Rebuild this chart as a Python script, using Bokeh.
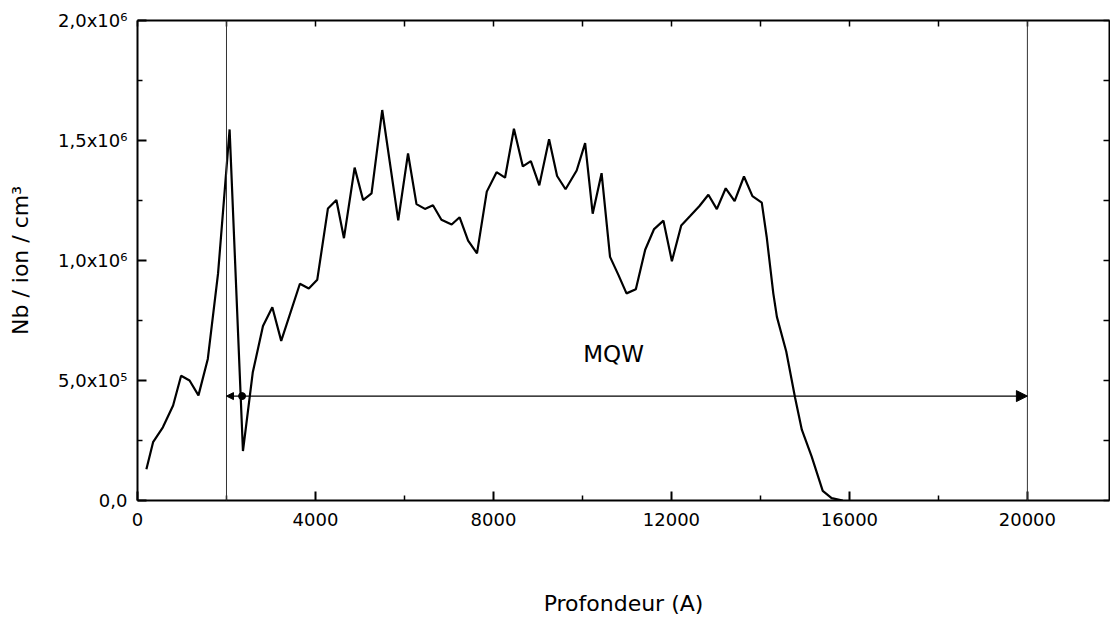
from bokeh.plotting import figure
from bokeh.models import (Range1d, LinearAxis, FixedTicker, Span, Arrow,
                          NormalHead, Label, ColumnDataSource)
from bokeh.embed import file_html
from bokeh.resources import INLINE

# ---- data ----
depth = [200, 350, 570, 800, 980, 1170, 1370, 1580, 1810, 2070, 2370, 2590,
         2820, 3030, 3230, 3650, 3850, 4040, 4280, 4470, 4640, 4880, 5070,
         5260, 5500, 5860, 6080, 6270, 6460, 6640, 6830, 7060, 7240, 7430,
         7630, 7850, 8070, 8260, 8460, 8660, 8840, 9030, 9250, 9430, 9620,
         9870, 10060, 10230, 10430, 10620, 10810, 10990, 11200, 11410, 11610,
         11820, 12010, 12220, 12420, 12630, 12830, 13020, 13220, 13420, 13630,
         13820, 14030, 14140, 14290, 14370, 14580, 14780, 14930, 15150, 15400,
         15600, 15850]
conc = [130e3, 243e3, 305e3, 396e3, 520e3, 500e3, 438e3, 590e3, 945e3,
        1546e3, 206e3, 533e3, 727e3, 805e3, 665e3, 903e3, 883e3, 920e3,
        1217e3, 1252e3, 1093e3, 1387e3, 1252e3, 1280e3, 1627e3, 1167e3,
        1446e3, 1235e3, 1215e3, 1230e3, 1170e3, 1150e3, 1180e3, 1083e3,
        1030e3, 1287e3, 1368e3, 1345e3, 1549e3, 1392e3, 1414e3, 1313e3,
        1505e3, 1352e3, 1297e3, 1375e3, 1489e3, 1195e3, 1364e3, 1015e3,
        939e3, 863e3, 880e3, 1045e3, 1131e3, 1166e3, 997e3, 1146e3, 1185e3,
        1227e3, 1274e3, 1214e3, 1301e3, 1247e3, 1350e3, 1268e3, 1241e3,
        1099e3, 862e3, 765e3, 621e3, 427e3, 295e3, 184e3, 40e3, 10e3, 0]

x_major_ticks = [0, 4000, 8000, 12000, 16000, 20000]
x_minor_ticks = [2000, 6000, 10000, 14000, 18000]
y_major_ticks = [0, 500000, 1000000, 1500000, 2000000]
y_minor_ticks = [250000, 750000, 1250000, 1750000]
y_tick_labels = ["0,0", "5,0x10⁵", "1,0x10⁶", "1,5x10⁶", "2,0x10⁶"]

mqw_bounds = [2000, 20000]      # vertical marker lines / arrow ends
mqw_level = 435000              # arrow height
mqw_dot = 2350                  # dot on the arrow
mqw_text_pos = (10700, 610000)  # "MQW" label

FONT = "DejaVu Sans"

p = figure(width=1110, height=618,
           x_range=Range1d(0, 21845), y_range=Range1d(0, 2000000),
           output_backend="svg", toolbar_location=None,
           x_axis_location=None, y_axis_location=None,
           min_border_left=137, min_border_right=1,
           min_border_top=20, min_border_bottom=118)
p.grid.visible = False
p.outline_line_color = None
p.background_fill_color = "white"
p.border_fill_color = "white"


def style(ax):
    ax.axis_line_width = 2
    ax.axis_line_color = "black"
    ax.major_tick_in = 9
    ax.major_tick_out = 0
    ax.minor_tick_in = 5
    ax.minor_tick_out = 0
    ax.major_tick_line_width = 2
    ax.minor_tick_line_width = 1.5
    ax.major_tick_line_color = "black"
    ax.minor_tick_line_color = "black"
    ax.major_label_text_font = FONT
    ax.major_label_text_font_size = "18px"
    ax.major_label_text_color = "black"
    ax.axis_label_text_font = FONT
    ax.axis_label_text_font_size = "22px"
    ax.axis_label_text_font_style = "normal"
    ax.axis_label_text_color = "black"


xt = FixedTicker(ticks=x_major_ticks, minor_ticks=x_minor_ticks)
yt = FixedTicker(ticks=y_major_ticks, minor_ticks=y_minor_ticks)

xb = LinearAxis(ticker=xt, axis_label="Profondeur (A)")
style(xb)
xb.major_label_standoff = 12
xb.axis_label_standoff = 62
p.add_layout(xb, "below")

yl = LinearAxis(ticker=yt, axis_label="Nb / ion / cm³")
style(yl)
yl.major_label_standoff = 10
yl.axis_label_standoff = 22
yl.major_label_overrides = {t: s for t, s in zip(y_major_ticks, y_tick_labels)}
p.add_layout(yl, "left")

# top and right frame axes: ticks only (all as unlabeled minor ticks)
xa = LinearAxis(ticker=FixedTicker(ticks=[], minor_ticks=x_major_ticks + x_minor_ticks))
style(xa)
xa.minor_tick_in = 6
p.add_layout(xa, "above")

yr = LinearAxis(ticker=FixedTicker(ticks=[], minor_ticks=y_major_ticks + y_minor_ticks))
style(yr)
yr.minor_tick_in = 6
p.add_layout(yr, "right")

for b in mqw_bounds:
    p.add_layout(Span(location=b, dimension="height",
                      line_color="#333333", line_width=1))

src = ColumnDataSource(data=dict(x=depth, y=conc))
p.line("x", "y", source=src, line_color="black", line_width=2.2)

p.add_layout(Arrow(start=NormalHead(size=7, fill_color="black", line_color="black"),
                   end=NormalHead(size=11, fill_color="black", line_color="black"),
                   x_start=mqw_bounds[0], x_end=mqw_bounds[1],
                   y_start=mqw_level, y_end=mqw_level,
                   line_color="black", line_width=1.2))
p.scatter([mqw_dot], [mqw_level], size=7, color="black")

p.add_layout(Label(x=mqw_text_pos[0], y=mqw_text_pos[1], text="MQW",
                   text_align="center", text_baseline="middle",
                   text_font=FONT, text_font_size="23px", text_color="black"))

open("out.html", "w").write(file_html(p, INLINE))
